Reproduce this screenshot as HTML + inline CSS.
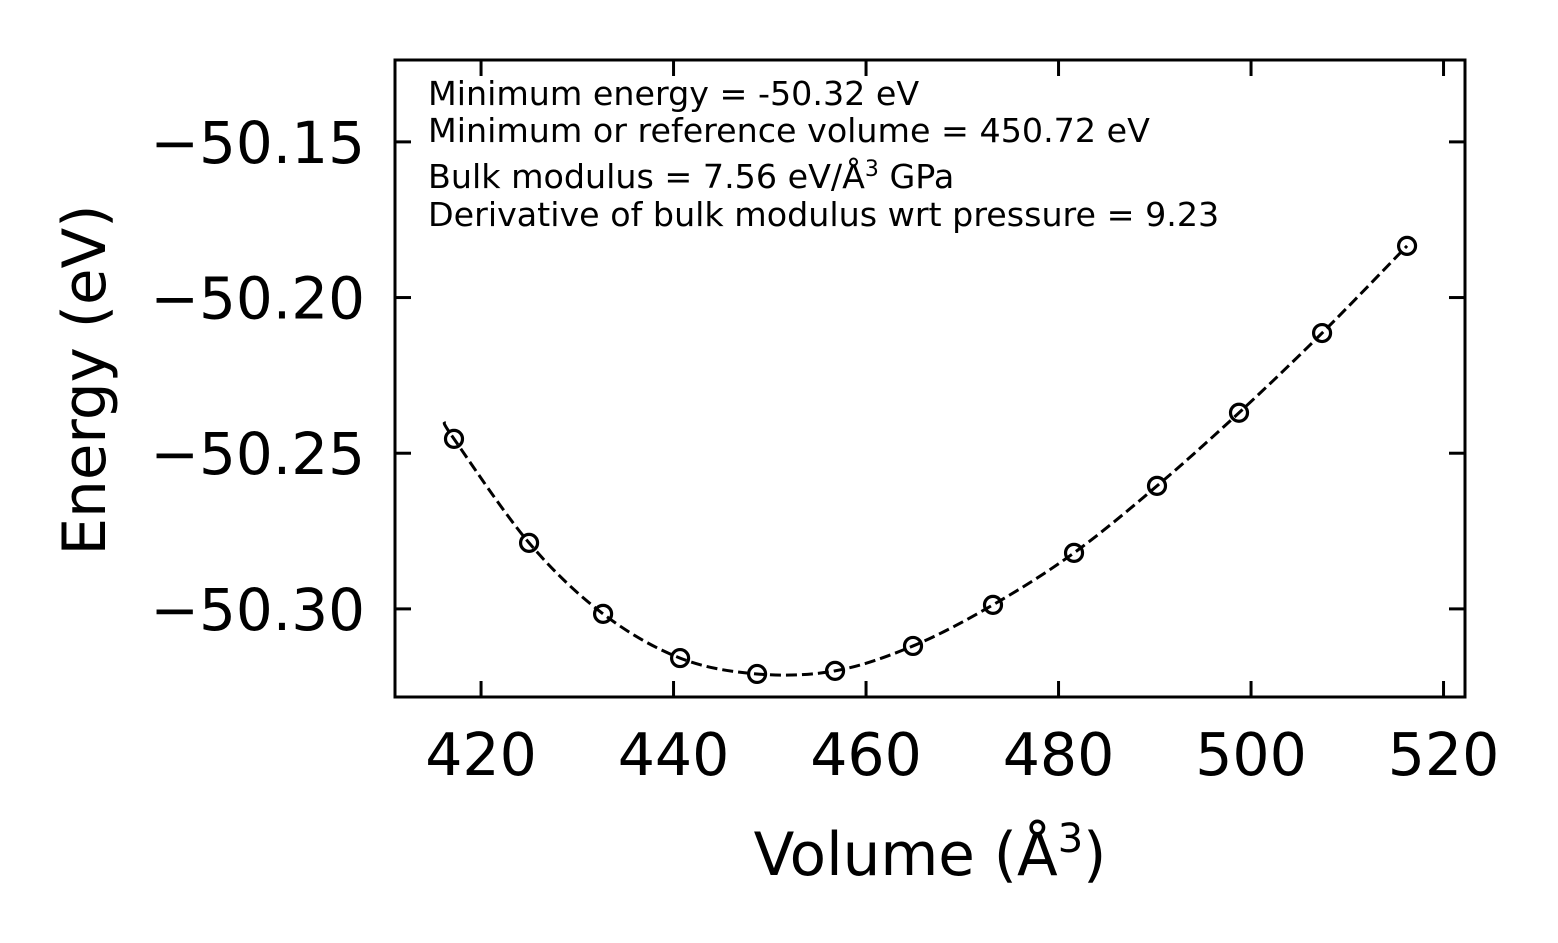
<!DOCTYPE html>
<html><head><meta charset="utf-8"><style>
html,body{margin:0;padding:0;background:#fff;}
svg{display:block;font-family:"DejaVu Sans","Liberation Sans",sans-serif;}
</style></head><body>
<svg id="chart" width="1558" height="943" viewBox="0 0 1558 943">
<rect width="1558" height="943" fill="#fff"/>
<g id="plot"></g>
<g id="axes"></g>
<g font-size="33.3" fill="#000">
<text x="428" y="105">Minimum energy = -50.32 eV</text>
<text x="428" y="142">Minimum or reference volume = 450.72 eV</text>
<text x="428" y="188">Bulk modulus = 7.56 eV/Å<tspan dy="-12" font-size="22">3</tspan><tspan dy="12"> GPa</tspan></text>
<text x="428" y="226">Derivative of bulk modulus wrt pressure = 9.23</text>
</g>
<text x="930" y="875" text-anchor="middle" font-size="59.5">Volume (Å<tspan dy="-23" font-size="40">3</tspan><tspan dy="23">)</tspan></text>
<text transform="translate(105,380) rotate(-90)" text-anchor="middle" font-size="59.5">Energy (eV)</text>
</svg>
<script>
const volumes = [417.19,424.99,432.68,440.68,448.68,456.78,464.88,473.19,481.61,490.23,498.75,507.38,516.21];
const energies = [-50.2454,-50.2788,-50.3016,-50.3158,-50.3209,-50.3199,-50.3119,-50.2987,-50.2820,-50.2605,-50.2370,-50.2114,-50.1834];
const fitVolumes = [416.16,417.19,424.99,432.68,440.68,448.68,456.78,464.88,473.19,481.61,490.23,498.75,507.38,516.21];
const fitEnergies = [-50.2399,-50.2454,-50.2788,-50.3016,-50.3158,-50.3209,-50.3199,-50.3119,-50.2987,-50.2820,-50.2605,-50.2370,-50.2114,-50.1834];
const xTicks = [420,440,460,480,500,520];
const yTicks = [-50.15,-50.20,-50.25,-50.30];
const yTickLabels = ["\u221250.15","\u221250.20","\u221250.25","\u221250.30"];

const L=395,R=1465,T=60,B=697;
const xMin=411.06,xMax=522.23,yMin=-50.3283,yMax=-50.1237;
const xs=v=>L+(v-xMin)/(xMax-xMin)*(R-L);
const ys=v=>B-(v-yMin)/(yMax-yMin)*(B-T);
const NS="http://www.w3.org/2000/svg";
function mk(tag,attrs,parent){const e=document.createElementNS(NS,tag);for(const k in attrs)e.setAttribute(k,attrs[k]);parent.appendChild(e);return e;}
const plot=document.getElementById('plot'), axes=document.getElementById('axes');

const P=fitVolumes.map((v,i)=>[xs(v),ys(fitEnergies[i])]);
let d=`M${P[0][0]},${P[0][1]}`;
for(let i=0;i<P.length-1;i++){const p0=P[Math.max(0,i-1)],p1=P[i],p2=P[i+1],p3=P[Math.min(P.length-1,i+2)];
d+=` C${p1[0]+(p2[0]-p0[0])/6},${p1[1]+(p2[1]-p0[1])/6} ${p2[0]-(p3[0]-p1[0])/6},${p2[1]-(p3[1]-p1[1])/6} ${p2[0]},${p2[1]}`;}
const fit=mk('path',{d:d,fill:'none',stroke:'#000','stroke-width':3,'stroke-dasharray':'11,5'},plot);



volumes.forEach((v,i)=>{
  const c=mk('circle',{cx:xs(v),cy:ys(energies[i]),r:8.5,fill:'none',stroke:'#000','stroke-width':3.2},plot);
  
  
});

const frame=mk('rect',{x:L,y:T,width:R-L,height:B-T,fill:'none',stroke:'#000','stroke-width':3},axes);



xTicks.forEach(t=>{
  const x=xs(t);
  const a=mk('line',{x1:x,x2:x,y1:B,y2:B-16,stroke:'#000','stroke-width':3},axes);
  
  
  const b=mk('line',{x1:x,x2:x,y1:T,y2:T+16,stroke:'#000','stroke-width':3},axes);
  
  
  const tx=mk('text',{x:x,y:775,'text-anchor':'middle','font-size':58.5},axes);
  tx.textContent=String(t);
  
  
});
yTicks.forEach((t,i)=>{
  const y=ys(t);
  const a=mk('line',{x1:L,x2:L+16,y1:y,y2:y,stroke:'#000','stroke-width':3},axes);
  
  
  const b=mk('line',{x1:R,x2:R-16,y1:y,y2:y,stroke:'#000','stroke-width':3},axes);
  
  
  const tx=mk('text',{x:365,y:y+21,'text-anchor':'end','font-size':58},axes);
  tx.textContent=yTickLabels[i];
  
  
});
</script>
</body></html>
